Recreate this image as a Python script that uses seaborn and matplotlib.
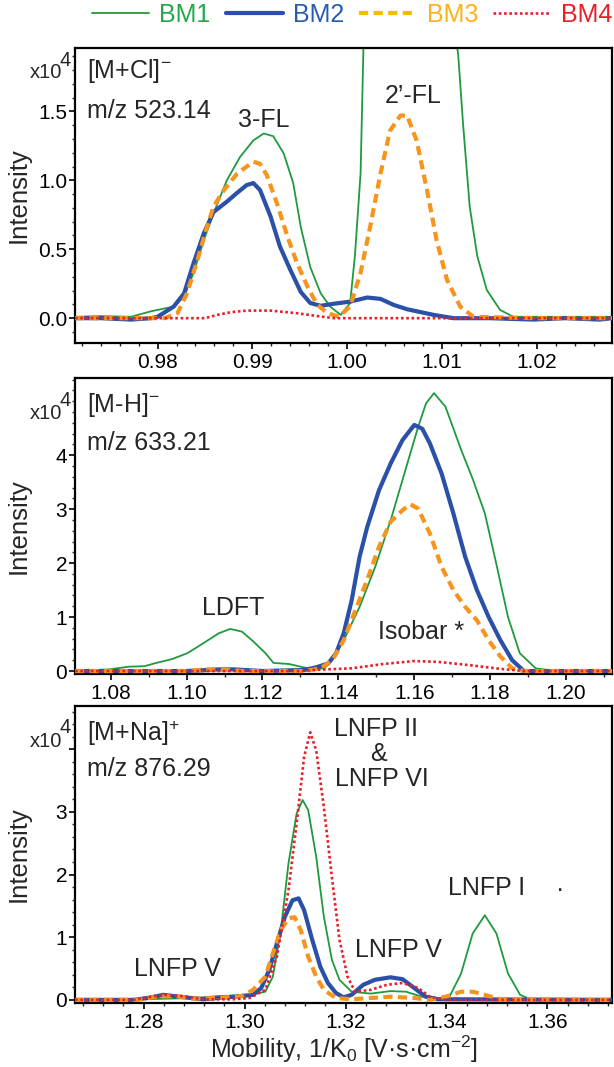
import numpy as np
import pandas as pd
import matplotlib
matplotlib.use("Agg")
import matplotlib.pyplot as plt
import seaborn as sns
from matplotlib.ticker import MultipleLocator, FormatStrFormatter
from matplotlib.lines import Line2D

# ---------------- data (x in 1/K0, y in x10^4 intensity) ----------------
# Panel 1: [M+Cl]-  m/z 523.14
p1_bm1_x = [0.9713, 0.9740, 0.9772, 0.9793, 0.9817, 0.9828, 0.9838, 0.9849, 0.9859, 0.9873, 0.9887, 0.9901,
            0.9912, 0.9922, 0.9933, 0.9943, 0.9951, 0.9961, 0.9972, 0.9982, 0.9993, 1.0003, 1.0008, 1.0014,
            1.0017, 1.0022, 1.0040, 1.0066, 1.0090, 1.0110, 1.0117, 1.0122, 1.0129, 1.0137, 1.0147, 1.0161,
            1.0175, 1.0200, 1.0240, 1.0279]
p1_bm1_y = [0.01, 0.015, 0.01, 0.05, 0.084, 0.157, 0.33, 0.57, 0.76, 1.00, 1.17, 1.29,
            1.34, 1.32, 1.195, 0.98, 0.66, 0.37, 0.18, 0.084, 0.024, 0.11, 0.45, 1.05,
            1.96, 2.40, 2.75, 2.85, 2.75, 2.30, 1.90, 1.41, 0.81, 0.45, 0.205, 0.06,
            0.01, 0.01, 0.01, 0.01]

p1_bm2_x = [0.9713, 0.9740, 0.9772, 0.9793, 0.9800, 0.9817, 0.9828, 0.9838, 0.9849, 0.9859, 0.9873, 0.9884,
            0.9894, 0.9901, 0.9908, 0.9919, 0.9929, 0.9940, 0.9951, 0.9961, 0.9972, 0.9986, 1.0003,
            1.0021, 1.0035, 1.0049, 1.0063, 1.0091, 1.0112, 1.0150, 1.0196, 1.0230, 1.0266, 1.0279]
p1_bm2_y = [0.0, 0.0, -0.01, 0.0, 0.01, 0.084, 0.18, 0.40, 0.62, 0.77, 0.845, 0.91,
            0.966, 0.98, 0.93, 0.74, 0.52, 0.35, 0.19, 0.11, 0.09, 0.105, 0.12,
            0.15, 0.14, 0.096, 0.065, 0.024, 0.0, 0.0, -0.01, 0.0, -0.01, 0.0]

p1_bm3_x = [0.9713, 0.9760, 0.9807, 0.9821, 0.9831, 0.9842, 0.9852, 0.9859, 0.9870, 0.9884, 0.9901, 0.9908,
            0.9915, 0.9926, 0.9937, 0.9947, 0.9958, 0.9968, 0.9979, 0.9991, 1.0003, 1.0014, 1.0024,
            1.0035, 1.0045, 1.0056, 1.0063, 1.0073, 1.0084, 1.0094, 1.0105, 1.0119, 1.0133, 1.0200, 1.0279]
p1_bm3_y = [0.0, 0.0, 0.0, 0.036, 0.18, 0.42, 0.66, 0.81, 0.93, 1.05, 1.135, 1.12,
            1.04, 0.83, 0.59, 0.40, 0.23, 0.10, 0.036, 0.012, 0.084, 0.33, 0.66,
            1.05, 1.36, 1.47, 1.47, 1.29, 0.93, 0.57, 0.28, 0.084, 0.01, 0.0, 0.0]

p1_bm4_x = [0.9713, 0.9800, 0.9850, 0.9863, 0.9877, 0.9894, 0.9919, 0.9947, 0.9972, 0.9986, 1.0050, 1.0279]
p1_bm4_y = [0.0, 0.0, 0.0, 0.024, 0.043, 0.055, 0.055, 0.036, 0.012, 0.0, 0.0, 0.0]

# Panel 2: [M-H]-  m/z 633.21
p2_bm1_x = [1.0706, 1.0796, 1.0847, 1.0889, 1.0920, 1.0961, 1.1002, 1.1043, 1.1085, 1.1115, 1.1146, 1.1177,
            1.1208, 1.1229, 1.1270, 1.1301, 1.1332, 1.1363, 1.1384, 1.1414, 1.1456, 1.1497, 1.1538, 1.1579,
            1.1610, 1.1631, 1.1652, 1.1682, 1.1724, 1.1755, 1.1786, 1.1816, 1.1847, 1.1878, 1.1920, 1.1971,
            1.2121]
p2_bm1_y = [0.0, 0.03, 0.08, 0.09, 0.15, 0.22, 0.33, 0.51, 0.70, 0.78, 0.73, 0.54,
            0.33, 0.15, 0.13, 0.08, 0.03, 0.05, 0.20, 0.57, 1.19, 1.93, 2.80, 3.78,
            4.52, 4.96, 5.15, 4.90, 4.09, 3.54, 2.92, 1.99, 1.00, 0.33, 0.05, 0.0,
            0.0]

p2_bm2_x = [1.0706, 1.1000, 1.1085, 1.1126, 1.1200, 1.1311, 1.1342, 1.1373, 1.1394, 1.1414, 1.1435, 1.1456,
            1.1476, 1.1507, 1.1538, 1.1569, 1.1600, 1.1621, 1.1641, 1.1672, 1.1703, 1.1734, 1.1765,
            1.1796, 1.1827, 1.1858, 1.1889, 1.2121]
p2_bm2_y = [0.0, 0.0, 0.03, 0.03, 0.0, 0.02, 0.07, 0.14, 0.33, 0.70, 1.31, 2.12,
            2.67, 3.35, 3.85, 4.28, 4.56, 4.49, 4.22, 3.66, 2.92, 2.12, 1.50,
            1.00, 0.57, 0.20, 0.0, 0.0]

p2_bm3_x = [1.0706, 1.1000, 1.1050, 1.1085, 1.1150, 1.1311, 1.1353, 1.1384, 1.1414, 1.1445, 1.1476, 1.1507,
            1.1538, 1.1569, 1.1590, 1.1610, 1.1641, 1.1672, 1.1703, 1.1734, 1.1765, 1.1796, 1.1827,
            1.1858, 1.1889, 1.2121]
p2_bm3_y = [0.0, 0.0, 0.03, 0.03, 0.0, 0.0, 0.05, 0.20, 0.57, 1.13, 1.69, 2.30,
            2.77, 2.98, 3.09, 3.01, 2.55, 1.93, 1.50, 1.19, 0.94, 0.57, 0.27,
            0.05, 0.0, 0.0]

p2_bm4_x = [1.0706, 1.1311, 1.1332, 1.1435, 1.1518, 1.1600, 1.1662, 1.1744, 1.1827, 1.1889, 1.2121]
p2_bm4_y = [0.0, 0.0, 0.02, 0.05, 0.13, 0.185, 0.17, 0.11, 0.04, 0.0, 0.0]

# Panel 3: [M+Na]+  m/z 876.29
p3_bm1_x = [1.2664, 1.2800, 1.2901, 1.2948, 1.3010, 1.3041, 1.3056, 1.3072, 1.3087, 1.3103, 1.3115, 1.3126,
            1.3142, 1.3157, 1.3173, 1.3188, 1.3212, 1.3250, 1.3289, 1.3320, 1.3351, 1.3383, 1.3406,
            1.3429, 1.3452, 1.3476, 1.3499, 1.3522, 1.3546, 1.3569, 1.3728]
p3_bm1_y = [0.0, 0.01, 0.03, 0.06, 0.08, 0.13, 0.37, 1.12, 2.18, 2.97, 3.19, 3.03,
            2.28, 1.33, 0.64, 0.32, 0.13, 0.10, 0.14, 0.13, 0.05, 0.01, 0.05,
            0.42, 1.06, 1.35, 1.06, 0.42, 0.08, 0.0, 0.0]

p3_bm2_x = [1.2664, 1.2780, 1.2808, 1.2839, 1.2870, 1.2917, 1.2979, 1.3017, 1.3033, 1.3049, 1.3064, 1.3080,
            1.3095, 1.3107, 1.3118, 1.3134, 1.3150, 1.3165, 1.3181, 1.3196, 1.3212, 1.3235, 1.3258,
            1.3289, 1.3313, 1.3336, 1.3359, 1.3383, 1.3728]
p3_bm2_y = [0.0, 0.0, 0.03, 0.08, 0.05, 0.01, 0.05, 0.08, 0.19, 0.48, 0.90, 1.33,
            1.59, 1.62, 1.43, 0.96, 0.53, 0.27, 0.11, 0.04, 0.08, 0.24, 0.32,
            0.36, 0.33, 0.19, 0.05, 0.01, 0.0]

p3_bm3_x = [1.2664, 1.2790, 1.2823, 1.2862, 1.2901, 1.2948, 1.2994, 1.3017, 1.3041, 1.3056, 1.3072, 1.3087,
            1.3099, 1.3111, 1.3126, 1.3142, 1.3157, 1.3181, 1.3212, 1.3289, 1.3336, 1.3367, 1.3398,
            1.3429, 1.3452, 1.3476, 1.3507, 1.3728]
p3_bm3_y = [0.0, 0.0, 0.05, 0.06, 0.02, 0.03, 0.06, 0.16, 0.37, 0.74, 1.12, 1.30,
            1.32, 1.12, 0.69, 0.37, 0.16, 0.03, 0.01, 0.05, 0.03, 0.0, 0.05,
            0.13, 0.13, 0.08, 0.01, 0.0]

p3_bm4_x = [1.2664, 1.2780, 1.2800, 1.2839, 1.2878, 1.2917, 1.2979, 1.3010, 1.3041, 1.3064, 1.3087, 1.3103,
            1.3118, 1.3130, 1.3142, 1.3157, 1.3173, 1.3188, 1.3204, 1.3219, 1.3250, 1.3282, 1.3313,
            1.3344, 1.3367, 1.3398, 1.3728]
p3_bm4_y = [0.0, 0.0, 0.03, 0.08, 0.06, 0.01, 0.01, 0.03, 0.16, 0.69, 1.75, 2.81,
            3.88, 4.27, 3.98, 3.08, 1.96, 0.96, 0.37, 0.13, 0.16, 0.24, 0.27,
            0.19, 0.05, 0.0, 0.0]

series_names = ["BM1", "BM2", "BM3", "BM4"]

panel_ions = ["[M+Cl]$^\\mathregular{-}$", "[M-H]$^\\mathregular{-}$", "[M+Na]$^\\mathregular{+}$"]
panel_mz = ["m/z 523.14", "m/z 633.21", "m/z 876.29"]

p1_xticks = [0.98, 0.99, 1.00, 1.01, 1.02]
p1_yticks = [0.0, 0.5, 1.0, 1.5]
p2_xticks = [1.08, 1.10, 1.12, 1.14, 1.16, 1.18, 1.20]
p2_yticks = [0, 1, 2, 3, 4]
p3_xticks = [1.28, 1.30, 1.32, 1.34, 1.36]
p3_yticks = [0, 1, 2, 3, 4]
p3_ytick_labels = ["0", "1", "2", "3", ""]

# ---------------- styling ----------------
sns.set_style("ticks")
plt.rcParams["font.family"] = ["Liberation Sans", "DejaVu Sans"]
plt.rcParams["mathtext.fontset"] = "custom"
plt.rcParams["mathtext.rm"] = "Liberation Sans"
plt.rcParams["mathtext.it"] = "Liberation Sans:italic"

C_GREEN = "#1f9a3e"
C_BLUE = "#2b50a8"
C_ORANGE = "#f7941d"
C_RED = "#e8202a"
styles = {
    "BM1": dict(color=C_GREEN, lw=1.3, ls="-", z=2),
    "BM2": dict(color=C_BLUE, lw=3.0, ls="-", z=3),
    "BM3": dict(color=C_ORANGE, lw=3.0, ls=(0, (2.2, 1.3)), z=4),
    "BM4": dict(color=C_RED, lw=1.9, ls=(0, (1, 1)), z=5),
}

fig = plt.figure(figsize=(6.14, 10.67), dpi=100)
W, H = 614, 1067
def axpos(top, bottom, left=75, right=612):
    return [left / W, 1 - bottom / H, (right - left) / W, (bottom - top) / H]

ax1 = fig.add_axes(axpos(48, 343))
ax2 = fig.add_axes(axpos(378, 674))
ax3 = fig.add_axes(axpos(706, 1003))

panels = [
    (ax1, [(p1_bm1_x, p1_bm1_y), (p1_bm2_x, p1_bm2_y), (p1_bm3_x, p1_bm3_y), (p1_bm4_x, p1_bm4_y)]),
    (ax2, [(p2_bm1_x, p2_bm1_y), (p2_bm2_x, p2_bm2_y), (p2_bm3_x, p2_bm3_y), (p2_bm4_x, p2_bm4_y)]),
    (ax3, [(p3_bm1_x, p3_bm1_y), (p3_bm2_x, p3_bm2_y), (p3_bm3_x, p3_bm3_y), (p3_bm4_x, p3_bm4_y)]),
]

for ax, data in panels:
    for name, (xs, ys) in zip(series_names, data):
        st = styles[name]
        df = pd.DataFrame({"x": xs, "y": ys})
        sns.lineplot(data=df, x="x", y="y", ax=ax, color=st["color"], lw=st["lw"],
                     linestyle=st["ls"], estimator=None, sort=False, zorder=st["z"],
                     legend=False)

TICK_FS = 15
for ax in (ax1, ax2, ax3):
    for sp in ax.spines.values():
        sp.set_linewidth(1.6)
        sp.set_color("black")
    ax.tick_params(axis="both", which="major", direction="out", length=4, width=1.2,
                   labelsize=TICK_FS, pad=1.5, colors="black")
    ax.tick_params(axis="both", which="minor", direction="out", length=2.5, width=1.0)
    ax.tick_params(axis="x", pad=3)
    ax.set_xlabel("")
    ax.set_ylabel("Intensity", fontsize=18.5, labelpad=0)
    ax.yaxis.set_label_coords(-0.082, 0.5)

# panel 1 axes
ax1.set_xlim(0.9713, 1.0279)
ax1.set_ylim(-0.18, 1.96)
ax1.set_xticks(p1_xticks)
ax1.xaxis.set_major_formatter(FormatStrFormatter("%.2f"))
ax1.xaxis.set_minor_locator(MultipleLocator(0.002))
ax1.set_yticks(p1_yticks)
ax1.yaxis.set_major_formatter(FormatStrFormatter("%.1f"))
ax1.yaxis.set_minor_locator(MultipleLocator(0.1))

# panel 2 axes
ax2.set_xlim(1.0706, 1.2121)
ax2.set_ylim(-0.055, 5.43)
ax2.set_xticks(p2_xticks)
ax2.xaxis.set_major_formatter(FormatStrFormatter("%.2f"))
ax2.xaxis.set_minor_locator(MultipleLocator(0.01))
ax2.set_yticks(p2_yticks)
ax2.yaxis.set_minor_locator(MultipleLocator(0.2))

# panel 3 axes
ax3.set_xlim(1.2664, 1.3728)
ax3.set_ylim(-0.05, 4.69)
ax3.set_xticks(p3_xticks)
ax3.xaxis.set_major_formatter(FormatStrFormatter("%.2f"))
ax3.xaxis.set_minor_locator(MultipleLocator(0.004))
ax3.set_yticks(p3_yticks)
ax3.set_yticklabels(p3_ytick_labels)
ax3.yaxis.set_minor_locator(MultipleLocator(0.2))
ax3.set_xlabel("Mobility, 1/K$_\\mathregular{0}$ [V·s·cm$^\\mathregular{-2}$]", fontsize=18, labelpad=1)

# annotations
ANN_FS = 18
ion_y = [1.79, 4.93, 4.25]
mz_y = [1.50, 4.22, 3.68]
for ax, ion, mz, yi, ym in zip((ax1, ax2, ax3), panel_ions, panel_mz, ion_y, mz_y):
    tr = matplotlib.transforms.blended_transform_factory(ax.transAxes, ax.transData)
    ax.text(0.022, yi, ion, transform=tr, fontsize=ANN_FS, va="center", ha="left")
    ax.text(0.022, ym, mz, transform=tr, fontsize=ANN_FS, va="center", ha="left")

# x10^4 multipliers
x10_y = [1.78, 4.77, 4.12]
sup_y = [1.87, 5.02, 4.35]
for ax, yx, ys in zip((ax1, ax2, ax3), x10_y, sup_y):
    tr = matplotlib.transforms.blended_transform_factory(ax.transAxes, ax.transData)
    ax.text(-0.024, yx, "x10", transform=tr, fontsize=14.5, ha="right", va="center", clip_on=False)
    ax.text(-0.008, ys, "4", transform=tr, fontsize=14.5, ha="right", va="center", clip_on=False)

ax1.text(0.9912, 1.44, "3-FL", fontsize=ANN_FS, ha="center", va="center")
ax1.text(1.0069, 1.61, "2’-FL", fontsize=ANN_FS, ha="center", va="center")

ax2.text(1.1123, 1.16, "LDFT", fontsize=ANN_FS, ha="center", va="center")
ax2.text(1.1618, 0.73, "Isobar *", fontsize=ANN_FS, ha="center", va="center")

ax3.text(1.3260, 4.33, "LNFP II", fontsize=ANN_FS, ha="center", va="center")
ax3.text(1.3266, 3.93, "&", fontsize=ANN_FS, ha="center", va="center")
ax3.text(1.3272, 3.53, "LNFP VI", fontsize=ANN_FS, ha="center", va="center")
ax3.text(1.3480, 1.78, "LNFP I", fontsize=ANN_FS, ha="center", va="center")
ax3.text(1.3625, 1.75, "·", fontsize=ANN_FS, ha="center", va="center")
ax3.text(1.3305, 0.80, "LNFP V", fontsize=ANN_FS, ha="center", va="center")
ax3.text(1.2866, 0.50, "LNFP V", fontsize=ANN_FS, ha="center", va="center")

# legend
legend_colors_line = [C_GREEN, C_BLUE, "#fbb900", C_RED]
legend_colors_text = ["#22a84a", "#2b5bb0", "#fbb315", "#e8202a"]
handles = []
for name, col in zip(series_names, legend_colors_line):
    st = styles[name]
    handles.append(Line2D([0], [0], color=col, lw=st["lw"], linestyle=st["ls"]))
leg = fig.legend(handles, series_names, loc="center right", bbox_to_anchor=(0.997, 0.986), ncol=4,
                 frameon=False, fontsize=18, handlelength=2.3, handletextpad=0.4,
                 columnspacing=0.6, borderaxespad=0, borderpad=0)
for txt, col in zip(leg.get_texts(), legend_colors_text):
    txt.set_color(col)

fig.savefig("out.png", dpi=100)
